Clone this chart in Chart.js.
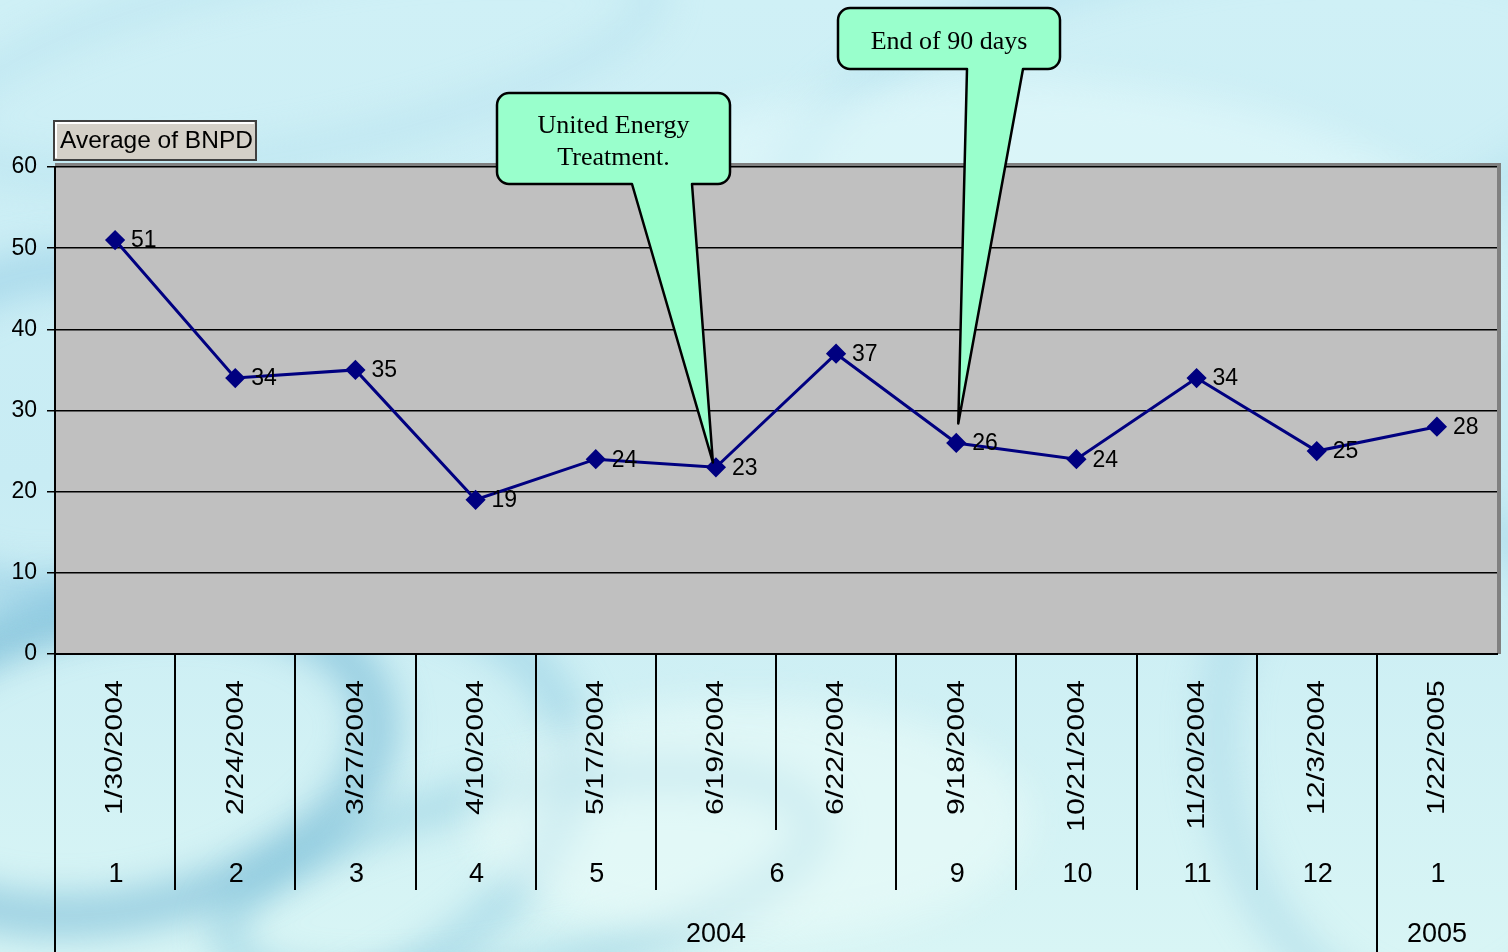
<!DOCTYPE html>
<html>
<head>
<meta charset="utf-8">
<script src="https://cdn.jsdelivr.net/npm/chart.js@4.4.1/dist/chart.umd.min.js"></script>
<style>
  html, body { margin: 0; padding: 0; overflow: hidden; }
  #wrap { width: 1508px; height: 952px; position: relative; }
</style>
</head>
<body>
<div id="wrap"><canvas id="chart" width="1508" height="952"></canvas></div>
<script>
// values
const dateLabels = ['1/30/2004', '2/24/2004', '3/27/2004', '4/10/2004', '5/17/2004', '6/19/2004',
  '6/22/2004', '9/18/2004', '10/21/2004', '11/20/2004', '12/3/2004', '1/22/2005'];
const monthLabels = ['1', '2', '3', '4', '5', '6', '6', '9', '10', '11', '12', '1'];
const yearLabels = ['2004', '2004', '2004', '2004', '2004', '2004', '2004', '2004', '2004', '2004', '2004', '2005'];
const bnpd = [51, 34, 35, 19, 24, 23, 37, 26, 24, 34, 25, 28];
const seriesName = 'Average of BNPD';

// callout texts and where their tails point (category index, value)
const calloutTexts = [['United Energy', 'Treatment.'], ['End of 90 days']];
const calloutAnchors = [{ index: 5, value: 23.6 }, { index: 7, value: 28.4 }];

const SANS = 'Arial, "Liberation Sans", sans-serif';
const SERIF = '"Times New Roman", "Liberation Serif", serif';

// group consecutive equal keys -> [{label, from, to}]
const groupRuns = (keys, labels) => {
  const runs = [];
  keys.forEach((k, i) => {
    const last = runs[runs.length - 1];
    if (last && last.key === k) last.to = i;
    else runs.push({ key: k, label: labels[i], from: i, to: i });
  });
  return runs;
};

const waterBackground = {
  id: 'waterBackground',
  beforeDraw(chart) {
    const { ctx, width, height } = chart;
    ctx.save();
    const base = ctx.createLinearGradient(0, 0, 0, height);
    base.addColorStop(0, '#cff0f6');
    base.addColorStop(0.5, '#c8ecf4');
    base.addColorStop(1, '#d8f5f5');
    ctx.fillStyle = base;
    ctx.fillRect(0, 0, width, height);

    // soft ripple rings
    ctx.filter = 'blur(18px)';
    const rings = [
      [120, 760, 260, 150, 'rgba(100,175,208,0.55)', 40],
      [160, 820, 420, 230, 'rgba(125,192,220,0.45)', 35],
      [520, 880, 300, 90, 'rgba(115,188,215,0.45)', 30],
      [60, 430, 200, 160, 'rgba(135,198,225,0.5)', 40],
      [1200, 120, 420, 160, 'rgba(165,218,235,0.45)', 30],
      [300, 60, 360, 90, 'rgba(170,220,236,0.45)', 25],
      [1420, 760, 200, 260, 'rgba(145,203,225,0.4)', 35]
    ];
    rings.forEach(([x, y, rx, ry, c, lw]) => {
      ctx.beginPath();
      ctx.ellipse(x, y, rx, ry, -0.2, 0, Math.PI * 2);
      ctx.strokeStyle = c;
      ctx.lineWidth = lw;
      ctx.stroke();
    });
    ctx.beginPath();
    ctx.ellipse(1000, 300, 500, 220, 0, 0, Math.PI * 2);
    ctx.fillStyle = 'rgba(235,252,252,0.45)';
    ctx.fill();
    ctx.beginPath();
    ctx.ellipse(750, 820, 280, 120, 0, 0, Math.PI * 2);
    ctx.fillStyle = 'rgba(240,253,250,0.5)';
    ctx.fill();
    ctx.filter = 'none';

    // plot area
    const a = chart.chartArea;
    ctx.fillStyle = '#808080';
    ctx.fillRect(a.left, a.top - 4, a.right - a.left + 4, a.bottom - a.top + 4);
    ctx.fillStyle = '#c0c0c0';
    ctx.fillRect(a.left, a.top, a.right - a.left, a.bottom - a.top);
    ctx.restore();
  }
};

const pointLabels = {
  id: 'pointLabels',
  afterDatasetsDraw(chart) {
    const { ctx } = chart;
    const meta = chart.getDatasetMeta(0);
    ctx.save();
    ctx.font = '23px ' + SANS;
    ctx.fillStyle = '#000';
    ctx.textAlign = 'left';
    ctx.textBaseline = 'middle';
    meta.data.forEach((pt, i) => {
      ctx.fillText(String(bnpd[i]), pt.x + 16, pt.y + 1);
    });
    ctx.restore();
  }
};

const multiLevelAxis = {
  id: 'multiLevelAxis',
  afterDraw(chart) {
    const { ctx } = chart;
    const xs = chart.scales.x;
    const n = dateLabels.length;
    const step = (xs.right - xs.left) / n;
    const edge = (k) => xs.left + k * step;
    const top = chart.chartArea.bottom;
    ctx.save();
    ctx.strokeStyle = '#000';
    ctx.lineWidth = 2;

    // separators
    for (let k = 0; k < n; k++) {
      let bottom = 830;
      if (k === 0 || yearLabels[k] !== yearLabels[k - 1]) bottom = 952;
      else if (monthLabels[k] !== monthLabels[k - 1]) bottom = 890;
      ctx.beginPath();
      ctx.moveTo(Math.round(edge(k)), top);
      ctx.lineTo(Math.round(edge(k)), bottom);
      ctx.stroke();
    }

    // dates, rotated
    ctx.fillStyle = '#000';
    ctx.font = '23px ' + SANS;
    ctx.textAlign = 'right';
    ctx.textBaseline = 'middle';
    dateLabels.forEach((d, i) => {
      ctx.save();
      ctx.translate(xs.getPixelForValue(i) + 1, 680);
      ctx.rotate(-Math.PI / 2);
      ctx.scale(1.32, 1);
      ctx.fillText(d, 0, 0);
      ctx.restore();
    });

    // months
    ctx.textAlign = 'center';
    ctx.font = '27px ' + SANS;
    groupRuns(monthLabels.map((m, i) => yearLabels[i] + '-' + m), monthLabels).forEach((g) => {
      ctx.fillText(g.label, (edge(g.from) + edge(g.to + 1)) / 2 + 1, 875);
    });
    // years
    groupRuns(yearLabels, yearLabels).forEach((g) => {
      ctx.fillText(g.label, (edge(g.from) + edge(g.to + 1)) / 2, 935);
    });
    ctx.restore();
  }
};

const legendButton = {
  id: 'legendButton',
  afterDraw(chart) {
    const { ctx } = chart;
    const x = 54, y = 121, w = 202, h = 39;
    ctx.save();
    ctx.fillStyle = '#d4d0c8';
    ctx.fillRect(x, y, w, h);
    ctx.lineWidth = 2;
    ctx.strokeStyle = '#fff';
    ctx.beginPath();
    ctx.moveTo(x + 2, y + h - 2); ctx.lineTo(x + 2, y + 2); ctx.lineTo(x + w - 2, y + 2);
    ctx.stroke();
    ctx.strokeStyle = '#404040';
    ctx.strokeRect(x, y, w, h);
    ctx.fillStyle = '#000';
    ctx.font = '24.5px ' + SANS;
    ctx.textBaseline = 'middle';
    ctx.fillText(chart.data.datasets[0].label, x + 6, y + h / 2 + 1);
    ctx.restore();
  }
};

const callouts = {
  id: 'callouts',
  afterDraw(chart) {
    const { ctx } = chart;
    const xs = chart.scales.x;
    const ys = chart.scales.y;
    // box: x, y, w, h, tail base left/right
    const boxes = [
      { x: 497, y: 93, w: 233, h: 91, b1: 632, b2: 692, dx: -3 },
      { x: 838, y: 8, w: 222, h: 61, b1: 967, b2: 1023, dx: 2 }
    ];
    ctx.save();
    boxes.forEach((b, i) => {
      const a = calloutAnchors[i];
      const tx = xs.getPixelForValue(a.index) + b.dx;
      const ty = ys.getPixelForValue(a.value);
      const r = 12;
      const { x, y, w, h } = b;
      ctx.beginPath();
      ctx.moveTo(x + r, y);
      ctx.lineTo(x + w - r, y);
      ctx.arcTo(x + w, y, x + w, y + r, r);
      ctx.lineTo(x + w, y + h - r);
      ctx.arcTo(x + w, y + h, x + w - r, y + h, r);
      ctx.lineTo(b.b2, y + h);
      ctx.lineTo(tx, ty);
      ctx.lineTo(b.b1, y + h);
      ctx.lineTo(x + r, y + h);
      ctx.arcTo(x, y + h, x, y + h - r, r);
      ctx.lineTo(x, y + r);
      ctx.arcTo(x, y, x + r, y, r);
      ctx.closePath();
      ctx.fillStyle = '#99ffcc';
      ctx.fill();
      ctx.lineWidth = 2.5;
      ctx.lineJoin = 'round';
      ctx.strokeStyle = '#000';
      ctx.stroke();

      ctx.fillStyle = '#000';
      ctx.font = '26px ' + SERIF;
      ctx.textAlign = 'center';
      ctx.textBaseline = 'middle';
      const lines = calloutTexts[i];
      const lh = 32;
      const cy = y + h / 2 - ((lines.length - 1) * lh) / 2 + 4;
      lines.forEach((t, j) => ctx.fillText(t, x + w / 2, cy + j * lh));
    });
    ctx.restore();
  }
};

new Chart(document.getElementById('chart'), {
  type: 'line',
  data: {
    labels: dateLabels,
    datasets: [{
      label: seriesName,
      data: bnpd,
      borderColor: '#000080',
      backgroundColor: '#000080',
      borderWidth: 3,
      pointStyle: 'rectRot',
      pointRadius: 8,
      pointBackgroundColor: '#000080',
      pointBorderColor: '#000080',
      tension: 0
    }]
  },
  options: {
    responsive: false,
    animation: false,
    layout: { padding: { left: 0, top: 167, right: 11, bottom: 298 } },
    plugins: {
      legend: { display: false },
      tooltip: { enabled: false }
    },
    scales: {
      x: {
        type: 'category',
        offset: true,
        grid: { display: false, drawTicks: false },
        border: { color: '#000', width: 2 },
        ticks: { display: false },
        afterFit(scale) { scale.height = 0; }
      },
      y: {
        min: 0,
        max: 60,
        ticks: { stepSize: 10, color: '#000', padding: 10, font: { family: SANS, size: 23 } },
        grid: { color: '#000', lineWidth: 1.5, tickLength: 8, tickColor: '#000' },
        border: { color: '#000', width: 2 },
        afterFit(scale) { scale.width = 55; }
      }
    }
  },
  plugins: [waterBackground, pointLabels, multiLevelAxis, legendButton, callouts]
});
</script>
</body>
</html>
